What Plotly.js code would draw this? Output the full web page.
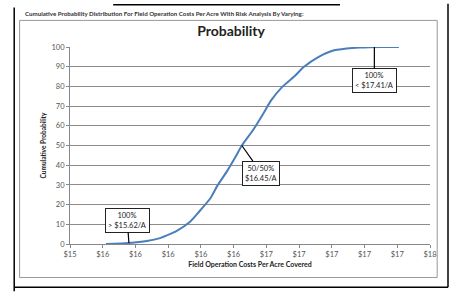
<!DOCTYPE html>
<html><head><meta charset="utf-8">
<script src="https://cdn.plot.ly/plotly-3.0.1.min.js"></script>
<style>html,body{margin:0;padding:0;background:#fff;}#c{width:453px;height:295px;}</style>
</head><body><div id="c"></div>
<script>
const costs = [15.62, 15.76, 15.87, 15.95, 16.01, 16.05, 16.13, 16.19, 16.26, 16.30, 16.36, 16.41, 16.45, 16.52, 16.58, 16.63, 16.70, 16.77, 16.83, 16.92, 17.00, 17.09, 17.17, 17.30, 17.41];
const cumProb = [0, 0.5, 1.5, 3, 5, 6.5, 11, 16.5, 23.5, 29.5, 37, 44, 50, 58, 66, 73, 80, 85, 90, 95, 98, 99.2, 99.7, 100, 100];
const xTickVals = [15.4, 15.6, 15.8, 16.0, 16.2, 16.4, 16.6, 16.8, 17.0, 17.2, 17.4, 17.6];
const xTickText = ['$15', '$16', '$16', '$16', '$16', '$16', '$17', '$17', '$17', '$17', '$17', '$18'];
const yTickVals = [0, 10, 20, 30, 40, 50, 60, 70, 80, 90, 100];
const annX = [15.76, 16.45, 17.26];
const annY = [0.5, 50, 100];
const annAX = [15.75, 16.57, 17.26];
const annAY = [12, 36, 83];
const annText = ['100%<br>> $15.62/A', '50/50%<br>$16.45/A', '100%<br>< $17.41/A'];

const font = 'Lato, "Liberation Sans", sans-serif';
const annotations = annText.map((t, i) => ({
  x: annX[i], y: annY[i], ax: annAX[i], ay: annAY[i], axref: 'x', ayref: 'y',
  xref: 'x', yref: 'y', text: t, showarrow: true, arrowhead: 0, arrowwidth: 1.2, arrowcolor: '#000',
  bordercolor: '#222', borderwidth: 1, borderpad: 2, bgcolor: '#fff',
  font: {family: font, size: 7.5, color: '#222'}
}));
annotations.push({
  xref: 'paper', yref: 'paper', x: -0.13, y: 1.17, xanchor: 'left', yanchor: 'middle', showarrow: false,
  text: '<b>Cumulative Probability Distribution For Field Operation Costs Per Acre With Risk Analysis By Varying:</b>',
  font: {family: font, size: 6.2, color: '#333'}
});

Plotly.newPlot('c', [{
  type: 'scatter', mode: 'lines', x: costs, y: cumProb,
  line: {color: '#4a7ebb', width: 2, shape: 'spline', smoothing: 0.6},
  hoverinfo: 'skip'
}], {
  width: 453, height: 295,
  margin: {l: 70, r: 23, t: 47, b: 51},
  paper_bgcolor: '#fff', plot_bgcolor: '#fff',
  showlegend: false,
  title: {text: '<b>Probability</b>', x: 0.51, xanchor: 'center', y: 0.895, yanchor: 'middle',
          font: {family: font, size: 14, color: '#222'}},
  xaxis: {
    range: [15.4, 17.6], tickmode: 'array', tickvals: xTickVals, ticktext: xTickText,
    showgrid: false, zeroline: false, showline: true, linecolor: '#888', linewidth: 1,
    ticks: 'outside', ticklen: 3, tickcolor: '#888',
    tickfont: {family: font, size: 7.5, color: '#555'},
    title: {text: '<b>Field Operation Costs Per Acre Covered</b>', standoff: 4,
            font: {family: font, size: 7, color: '#222'}}
  },
  yaxis: {
    range: [0, 100], tickmode: 'array', tickvals: yTickVals,
    showgrid: true, gridcolor: '#8c8c8c', gridwidth: 1, zeroline: false,
    showline: true, linecolor: '#888', linewidth: 1,
    ticks: 'outside', ticklen: 3, tickcolor: '#888',
    tickfont: {family: font, size: 7.5, color: '#555'},
    title: {text: '<b>Cumulative Probability</b>', standoff: 4,
            font: {family: font, size: 6.5, color: '#222'}}
  },
  annotations: annotations,
  shapes: [
    {type: 'rect', xref: 'paper', yref: 'paper', x0: -0.14, x1: 1.02, y0: -0.17, y1: 1.135,
     line: {color: '#999', width: 1}},
    {type: 'line', xref: 'paper', yref: 'paper', x0: -0.155, x1: -0.155, y0: -0.24, y1: 1.2,
     line: {color: '#000', width: 1.5}},
    {type: 'line', xref: 'paper', yref: 'paper', x0: 1.05, x1: 1.05, y0: -0.22, y1: 1.22,
     line: {color: '#000', width: 1.5}},
    {type: 'line', xref: 'paper', yref: 'paper', x0: -0.155, x1: 1.05, y0: -0.22, y1: -0.22,
     line: {color: '#000', width: 1.5}},
    {type: 'line', xref: 'paper', yref: 'paper', x0: 0.12, x1: 0.75, y0: 1.215, y1: 1.215,
     line: {color: '#000', width: 1.5}}
  ]
}, {displayModeBar: false, staticPlot: true});
</script></body></html>
